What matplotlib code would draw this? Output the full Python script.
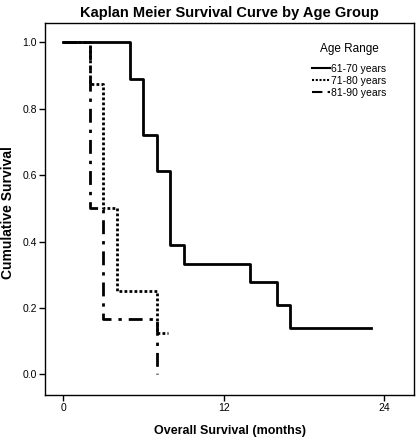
import matplotlib
matplotlib.use("Agg")
import matplotlib.pyplot as plt
from matplotlib.lines import Line2D

plt.rcParams['font.family'] = ['Liberation Sans', 'DejaVu Sans']

# Data (Kaplan-Meier step curves)
t_6170 = [0, 5, 6, 7, 8, 9, 14, 16, 17, 23]
s_6170 = [1.0, 0.889, 0.722, 0.611, 0.389, 0.333, 0.278, 0.208, 0.139, 0.139]

t_7180 = [0, 2, 3, 4, 7, 7.8]
s_7180 = [1.0, 0.875, 0.5, 0.25, 0.125, 0.125]

t_8190 = [0, 2, 3, 7]
s_8190 = [1.0, 0.5, 0.167, 0.0]

labels = ["61-70 years", "71-80 years", "81-90 years"]
xticks = [0, 12, 24]
yticks = [0.0, 0.2, 0.4, 0.6, 0.8, 1.0]

fig = plt.figure(figsize=(4.17, 4.41), dpi=100)
ax = fig.add_axes([45/417, 1 - 395/441, (414-45)/417, (395-23)/441])

ls_dashdot = (0, (5, 2.5, 1.2, 2.5))
ls_dot = (0, (1, 0.8))
ax.step(t_6170, s_6170, where='post', color='black', lw=2.0, ls='-')
ax.step(t_7180, s_7180, where='post', color='black', lw=2.0, ls=ls_dot)
ax.step(t_8190, s_8190, where='post', color='black', lw=2.0, ls=ls_dashdot)

ax.set_xlim(-1.37, 26.25)
ax.set_ylim(-0.062, 1.058)
ax.set_xticks(xticks)
ax.set_xticklabels([str(v) for v in xticks])
ax.set_yticks(yticks)
ax.set_yticklabels([f"{v:.1f}" for v in yticks])
ax.tick_params(direction='out', length=4, width=1, labelsize=7.5, pad=2)
for sp in ax.spines.values():
    sp.set_linewidth(1.0)

ax.set_xlabel("Overall Survival (months)", fontsize=9, fontweight='bold')
ax.xaxis.set_label_coords(0.5, -0.08)
ax.set_ylabel("Cumulative Survival", fontsize=10, fontweight='bold')
ax.yaxis.set_label_coords(-0.081, 0.49)
ax.set_title("Kaplan Meier Survival Curve by Age Group", fontsize=10.5, fontweight='bold', pad=4)

handles = [
    Line2D([0], [0], color='black', lw=1.5, ls='-'),
    Line2D([0], [0], color='black', lw=1.5, ls=ls_dot),
    Line2D([0], [0], color='black', lw=1.5, ls=ls_dashdot),
]
leg = ax.legend(handles, labels, title="Age Range", loc='upper right',
                bbox_to_anchor=(0.945, 0.965), frameon=False, fontsize=7.5,
                title_fontsize=8.5, handlelength=1.7, handletextpad=0.1,
                labelspacing=0.2, borderpad=0.2)
leg._legend_box.sep = 6

fig.savefig("out.png", dpi=100)
